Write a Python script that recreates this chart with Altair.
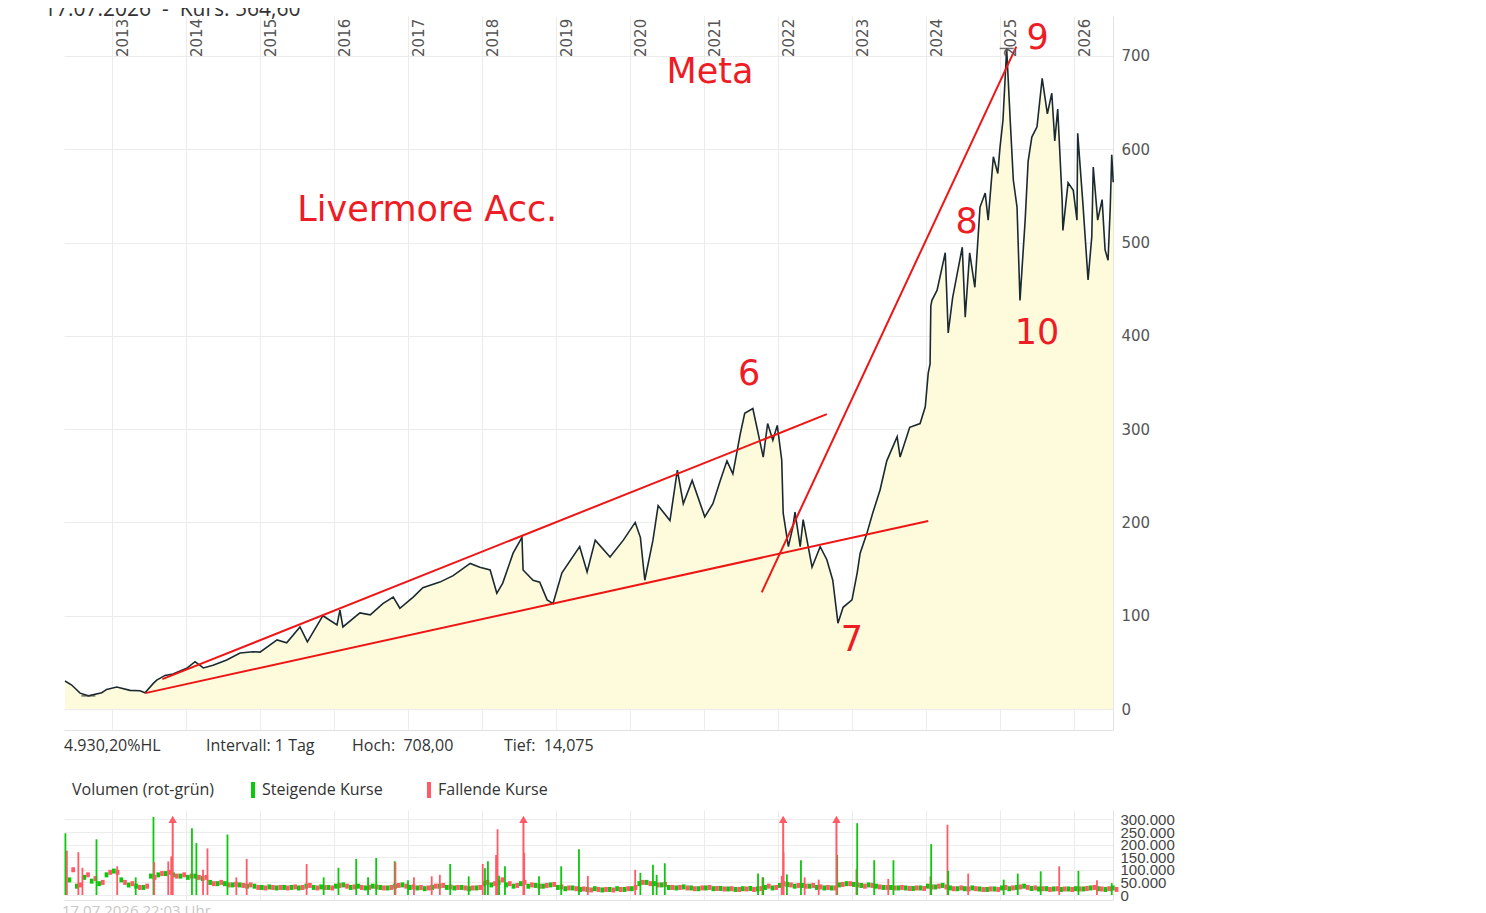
import altair as alt
import pandas as pd

# ---------------- data ----------------
price_year = [2012.365, 2012.455, 2012.568, 2012.68, 2012.861, 2012.928, 2013.064, 2013.243, 2013.378, 2013.446,
              2013.558, 2013.604, 2013.716, 2013.824, 2014.009, 2014.122, 2014.234, 2014.365, 2014.55, 2014.73,
              2014.905, 2015.00, 2015.23, 2015.36, 2015.54, 2015.64, 2015.85, 2016.04, 2016.08, 2016.12,
              2016.35, 2016.49, 2016.66, 2016.80, 2016.89, 2017.07, 2017.20, 2017.43, 2017.61, 2017.84,
              2017.97, 2018.11, 2018.20, 2018.28, 2018.42, 2018.54, 2018.555, 2018.69, 2018.78, 2018.88,
              2018.96, 2019.08, 2019.32, 2019.42, 2019.53, 2019.73, 2019.91, 2020.07, 2020.14, 2020.20,
              2020.31, 2020.38, 2020.54, 2020.64, 2020.72, 2020.84, 2021.01, 2021.12, 2021.22, 2021.31,
              2021.39, 2021.49, 2021.55, 2021.66, 2021.76, 2021.80, 2021.86, 2021.93, 2021.99, 2022.05,
              2022.07, 2022.14, 2022.20, 2022.23, 2022.30, 2022.34, 2022.46, 2022.57, 2022.66, 2022.74,
              2022.81, 2022.88, 2023.00, 2023.07, 2023.11, 2023.20, 2023.28, 2023.38, 2023.47, 2023.61,
              2023.65, 2023.78, 2023.92, 2023.99, 2024.03, 2024.055, 2024.065, 2024.08, 2024.15, 2024.26,
              2024.30, 2024.36, 2024.49, 2024.53, 2024.59, 2024.66, 2024.73, 2024.80, 2024.84, 2024.91,
              2024.97, 2025.00, 2025.04, 2025.09, 2025.14, 2025.18, 2025.23, 2025.27, 2025.34, 2025.38,
              2025.43, 2025.50, 2025.57, 2025.64, 2025.70, 2025.74, 2025.78, 2025.84, 2025.85, 2025.92,
              2025.99, 2026.04, 2026.05, 2026.12, 2026.19, 2026.24, 2026.26, 2026.32, 2026.38, 2026.42,
              2026.46, 2026.49, 2026.51, 2026.53]
price_val = [30, 25.7, 17, 14.1, 17.5, 21, 23.5, 20, 19.6, 17.5,
             27.5, 31, 36, 37.5, 43.6, 50.7, 44, 47, 52.5, 60,
             61.4, 61, 74, 71, 88, 72, 100, 90, 106, 88,
             103, 101, 113, 120, 108, 120, 130, 136, 143, 156,
             152, 149, 124, 135, 167, 184, 149, 138, 136, 117,
             113, 146, 174, 147, 181, 163, 181, 200, 184, 138,
             181, 218, 202, 256, 220, 245, 206, 220, 245, 266,
             252, 295, 317, 322, 285, 270, 306, 288, 304, 267,
             210, 174, 195, 211, 174, 203, 152, 174, 160, 138,
             92, 109, 117, 146, 167, 188, 210, 235, 266, 292,
             270, 302, 306, 324, 360, 370, 432, 438, 449, 489,
             403, 441, 495, 420, 489, 452, 538, 553, 524, 592,
             574, 602, 631, 708, 628, 567, 538, 438, 524, 587,
             613, 624, 676, 638, 660, 609, 643, 545, 513, 564,
             556, 524, 617, 542, 460, 506, 581, 524, 546, 492,
             481, 538, 594, 564.6]

trend_id = ["upper", "upper", "lower", "lower", "steep", "steep"]
trend_year = [2013.68, 2022.66, 2013.45, 2024.03, 2021.78, 2025.22]
trend_val = [32, 316, 17, 201.5, 125, 710]

note_text = ["Meta", "Livermore Acc.", "6", "7", "8", "9", "10"]
note_year = [2021.08, 2017.26, 2021.61, 2023.00, 2024.55, 2025.51, 2025.50]
note_val = [683, 535, 359, 74, 522, 719, 403]

hilo_year = [2025.09, 2012.68]
hilo_val = [708.0, 14.075]

year_ticks = list(range(2013, 2027))
price_ticks = [0, 100, 200, 300, 400, 500, 600, 700]
vol_ticks = [0, 50000, 100000, 150000, 200000, 250000, 300000]

# volume (thousands), background slots of 0.1 year starting 2012.4
vol_up_k = [60, 35, 70, 55, 45, 80,
            95, 60, 40, 35, 30, 75, 80, 85, 80, 75,
            70, 75, 65, 50, 45, 45, 40, 40, 35, 35,
            30, 32, 28, 30, 30, 28, 35, 30, 32, 30,
            35, 40, 30, 35, 28, 35, 30, 28, 35, 40,
            30, 28, 25, 30, 35, 30, 28, 30, 25, 28,
            45, 40, 50, 40, 35, 45, 35, 38, 35, 40,
            30, 25, 28, 22, 22, 25, 20, 22, 25, 22,
            25, 45, 50, 45, 40, 30, 28, 32, 28, 25,
            28, 25, 26, 24, 22, 25, 26, 24, 30, 28,
            38, 42, 35, 38, 35, 30, 28, 28, 40, 45,
            42, 38, 40, 35, 30, 30, 28, 28, 26, 28,
            35, 32, 38, 28, 25, 25, 28, 24, 22, 24,
            28, 25, 30, 35, 26, 24, 25, 24, 22, 24,
            25, 24, 28, 25, 22, 28]
vol_down_k = [100, 40, 80, 65, 50, 90,
              90, 50, 45, 30, 35, 70, 85, 90, 75, 80,
              75, 70, 70, 45, 50, 40, 42, 38, 40, 30,
              28, 30, 30, 28, 32, 30, 38, 28, 30, 28,
              38, 35, 32, 30, 30, 32, 28, 30, 38, 35,
              32, 30, 28, 35, 38, 32, 30, 28, 28, 30,
              50, 45, 60, 45, 38, 50, 40, 35, 38, 42,
              32, 28, 25, 24, 20, 22, 22, 20, 22, 25,
              30, 50, 45, 40, 42, 30, 30, 28, 25, 28,
              30, 26, 24, 25, 22, 24, 22, 26, 35, 30,
              45, 40, 38, 35, 38, 32, 30, 28, 42, 45,
              40, 35, 38, 32, 30, 28, 30, 26, 28, 26,
              32, 35, 32, 25, 28, 24, 25, 22, 24, 22,
              30, 28, 32, 30, 28, 25, 22, 25, 24, 22,
              24, 26, 30, 24, 25, 22]

spike_year = [2012.37, 2012.39, 2012.545, 2012.60, 2012.79, 2013.07, 2013.32, 2013.56, 2013.57, 2013.76,
              2013.80, 2014.08, 2014.14, 2014.23, 2014.29, 2014.56, 2014.68, 2014.82, 2015.63, 2015.86,
              2016.06, 2016.30, 2016.46, 2016.57, 2016.82, 2016.83, 2017.00, 2017.08, 2017.32, 2017.43,
              2017.57, 2017.82, 2018.01, 2018.04, 2018.08, 2018.19, 2018.21, 2018.23, 2018.31, 2018.57,
              2018.77, 2019.07, 2019.31, 2019.43, 2020.07, 2020.14, 2020.31, 2020.36, 2020.47, 2021.73,
              2021.79, 2021.80, 2022.05, 2022.075, 2022.12, 2022.31, 2022.36, 2022.55, 2022.80, 2023.06,
              2023.07, 2023.30, 2023.49, 2023.56, 2024.06, 2024.07, 2024.29, 2024.30, 2024.57, 2025.05,
              2025.24, 2025.55, 2025.80, 2026.06, 2026.31, 2026.51]
spike_vol_k = [245, 176, 170, 108, 221, 114, 70, 310, 130, 133,
               153, 265, 206, 100, 185, 240, 70, 143, 123, 70,
               108, 143, 70, 147, 134, 130, 59, 70, 74, 80,
               123, 74, 123, 106, 134, 159, 261, 76, 114, 167,
               74, 114, 182, 76, 100, 88, 120, 80, 126, 85,
               70, 70, 76, 168, 82, 138, 70, 61, 159, 102,
               285, 138, 64, 138, 74, 202, 279, 96, 85, 61,
               85, 94, 114, 96, 59, 47]
spike_dir = ["g", "r", "r", "r", "g", "r", "g", "g", "r", "r",
             "r", "g", "g", "r", "r", "g", "r", "r", "r", "g",
             "g", "g", "g", "g", "g", "r", "g", "r", "r", "r",
             "g", "g", "r", "g", "g", "r", "r", "g", "g", "r",
             "g", "g", "g", "r", "r", "g", "g", "g", "g", "g",
             "r", "g", "r", "r", "g", "g", "r", "r", "g", "r",
             "g", "g", "r", "g", "r", "g", "r", "g", "r", "g",
             "g", "g", "r", "g", "r", "g"]

arrow_year = [2013.82, 2018.56, 2022.07, 2022.79]

# ---------------- styles ----------------
GRID = "#ececec"
DOMAIN = "#e2e2e2"
AREA = "#fefbdc"
LINE = "#1b2a31"
RED = "#ee1515"
RED_TXT = "#ee1c25"
GREEN_V = "#0ac80a"
RED_V = "#ff5a66"
TXT = "#333333"
XDOM = [2012.351, 2026.527]
W = 1049
H1 = 714
H2 = 90

UP = "Steigende Kurse"
DOWN = "Fallende Kurse"


def X(field):
    return alt.X(f"{field}:Q", scale=alt.Scale(domain=XDOM, nice=False, zero=False),
                 axis=alt.Axis(values=year_ticks, grid=True, gridColor=GRID, labels=False,
                               ticks=False, domain=True, domainColor=DOMAIN, title=None,
                               orient="bottom"))


def Yp(field):
    return alt.Y(f"{field}:Q", scale=alt.Scale(domain=[-22.5, 742.8], nice=False, zero=False),
                 axis=alt.Axis(orient="right", values=price_ticks, grid=True, gridColor=GRID,
                               domain=True, domainColor=DOMAIN, ticks=False, labelPadding=8,
                               labelFont="DejaVu Sans", labelFontSize=15, labelColor="#555",
                               title=None))


def Yv(field):
    return alt.Y(f"{field}:Q", stack=None, scale=alt.Scale(domain=[0, 317600], nice=False),
                 axis=alt.Axis(orient="right", values=vol_ticks, grid=True, gridColor=GRID,
                               domain=True, domainColor=DOMAIN, ticks=False, labelPadding=7,
                               labelFont="Liberation Sans", labelFontSize=15, labelColor="#444",
                               labelOverlap=False, labelBound=False, title=None,
                               labelExpr="replace(format(datum.value, ','), ',', '.')"))


def label(text, x, y, size=16, color=TXT, font="Open Sans", align="left", baseline="middle"):
    return alt.Chart(pd.DataFrame({"t": [text]})).mark_text(
        align=align, baseline=baseline, font=font, fontSize=size, color=color
    ).encode(x=alt.value(x), y=alt.value(y), text="t:N")


price_df = pd.DataFrame({"year": price_year, "price": price_val})
trend_df = pd.DataFrame({"id": trend_id, "year": trend_year, "price": trend_val})
note_df = pd.DataFrame({"label": note_text, "year": note_year, "price": note_val})
hilo_df = pd.DataFrame({"year": hilo_year, "price": hilo_val})
yl_df = pd.DataFrame({"year": year_ticks, "label": [str(y) for y in year_ticks]})

area = alt.Chart(price_df).mark_area(color=AREA, opacity=1).encode(
    x=X("year"), y=Yp("price"), y2=alt.datum(0))
line = alt.Chart(price_df).mark_line(color=LINE, strokeWidth=1.6).encode(
    x=X("year"), y=Yp("price"))
trend = alt.Chart(trend_df).mark_line(color=RED, strokeWidth=2).encode(
    x=X("year"), y=Yp("price"), detail="id:N")
notes = alt.Chart(note_df).mark_text(color=RED_TXT, font="DejaVu Sans", fontSize=35,
                                     baseline="middle", align="center").encode(
    x=X("year"), y=Yp("price"), text="label:N")
hilo = alt.Chart(hilo_df).mark_tick(color="#333", thickness=1.5, size=14, orient="horizontal").encode(
    x=X("year"), y=Yp("price"))
years = alt.Chart(yl_df).mark_text(angle=270, align="left", baseline="top", dy=4,
                                   font="DejaVu Sans", fontSize=15, color="#555").encode(
    x=X("year"), y=alt.value(41), text="label:N")

header = label("17.07.2026\u00a0\u00a0-\u00a0\u00a0Kurs: 564,60", -20, 0, size=21, baseline="alphabetic")
info1 = label("4.930,20%HL", 0, 730)
info2 = label("Intervall: 1 Tag", 142, 730)
info3 = label("Hoch:\u00a0\u00a0708,00", 288, 730)
info4 = label("Tief:\u00a0\u00a014,075", 440, 730)

price_chart = alt.layer(area, line, trend, notes, hilo, years, header, info1, info2, info3, info4).properties(
    width=W, height=H1)

# volume
n = len(vol_up_k)
slot = [round(2012.4 + 0.1 * i, 3) for i in range(n)]
base_df = pd.DataFrame({
    "x0": slot + [s + 0.05 for s in slot],
    "x1": [s + 0.05 for s in slot] + [s + 0.1 for s in slot],
    "vol": [v * 1000 for v in vol_up_k] + [v * 1000 for v in vol_down_k],
    "dir": [UP] * n + [DOWN] * n,
})
spike_df = pd.DataFrame({
    "year": spike_year,
    "vol": [v * 1000 for v in spike_vol_k],
    "dir": [UP if d == "g" else DOWN for d in spike_dir],
})
arrow_df = pd.DataFrame({"year": arrow_year, "top": [300000] * len(arrow_year)})

COLOR = alt.Color("dir:N", scale=alt.Scale(domain=[UP, DOWN], range=[GREEN_V, RED_V]),
                  legend=alt.Legend(orient="none", legendX=8, legendY=766, direction="horizontal",
                                    title="Volumen (rot-grün)", titleOrient="left",
                                    titleFont="Open Sans", titleFontSize=16, titleFontWeight="normal",
                                    titleColor=TXT, titlePadding=30,
                                    labelFont="Open Sans", labelFontSize=16, labelColor=TXT,
                                    symbolType="M-0.25,-1L0.25,-1L0.25,1L-0.25,1Z", symbolSize=256,
                                    symbolStrokeWidth=0, symbolOpacity=1, labelOffset=1,
                                    columnPadding=38))

base = alt.Chart(base_df).mark_bar(opacity=1).encode(
    x=X("x0"), x2="x1:Q", y=Yv("vol"), color=COLOR)
spikes = alt.Chart(spike_df).mark_rule(strokeWidth=1.8, opacity=1).encode(
    x=X("year"), y=Yv("vol"), y2=alt.datum(0), color=COLOR)
arrow_line = alt.Chart(arrow_df).mark_rule(strokeWidth=2, color=RED_V).encode(
    x=X("year"), y=Yv("top"), y2=alt.datum(0))
arrow_head = alt.Chart(arrow_df).mark_point(shape="triangle-up", filled=True, size=70,
                                            color=RED_V, opacity=1).encode(
    x=X("year"), y=Yv("top"))
footer = label("17.07.2026 22:03 Uhr", -2, 101, size=15, color="#c8c8c8")

vol_chart = alt.layer(base, spikes, arrow_line, arrow_head, footer).properties(width=W, height=H2)

chart = alt.vconcat(price_chart, vol_chart, spacing=80, bounds="flush").properties(
    padding={"left": 36, "top": -9, "right": 10, "bottom": 0},
    background="white",
).configure_view(stroke="transparent", strokeWidth=0)

chart.save("out.html", embed_options={"renderer": "svg", "actions": False})
